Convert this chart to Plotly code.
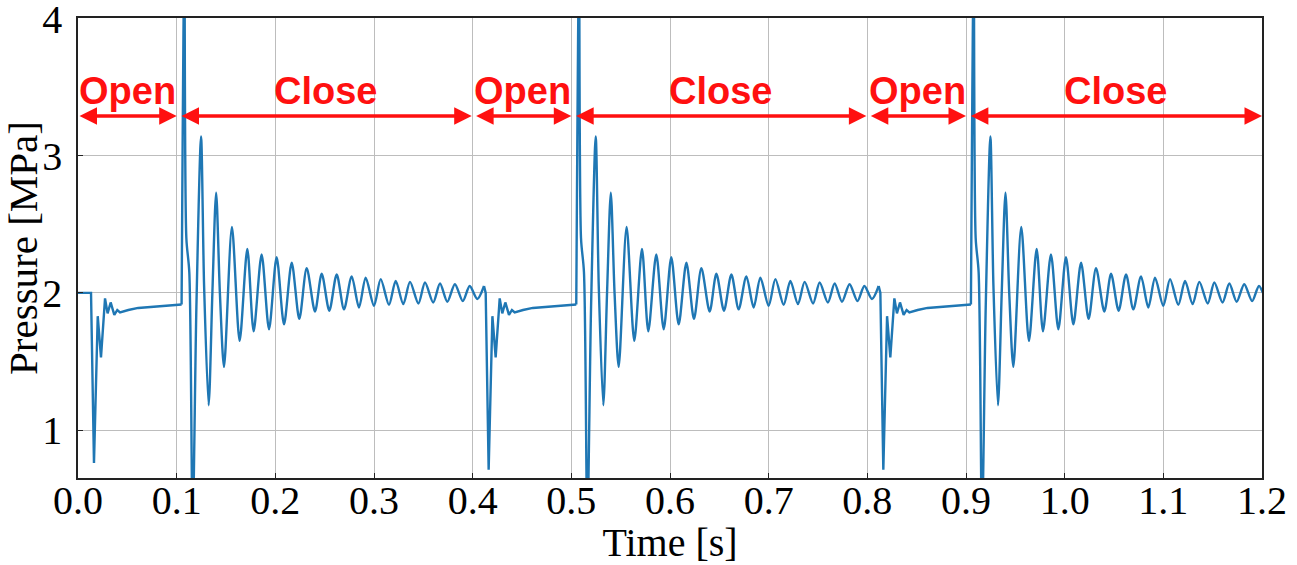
import plotly.graph_objects as go

# ---- data ----
cycle_start = [0.0, 0.4, 0.8]          # s, start of each valve cycle
initial_t = [0.0]
initial_p = [2.00]

# valve-open transient (time relative to cycle start, s ; pressure MPa)
open_t = [0.0132, 0.0162, 0.0200, 0.0233, 0.0274, 0.0300, 0.0331, 0.0368,
          0.0398, 0.0426, 0.0510, 0.0610, 0.0810, 0.1034, 0.1050]
open_p = [2.00, None, 1.83, 1.53, 1.96, 1.85, 1.93, 1.84,
          1.875, 1.857, 1.875, 1.89, 1.90, 1.91, 1.915]
open_dip = [0.76, 0.71, 0.71]          # deepest dip after opening, per cycle

# valve-close water hammer (time relative to cycle start, s ; pressure MPa)
close_t = [0.1050, 0.1078, 0.1098, 0.1128, 0.1162, 0.1200, 0.1247, 0.1278,
           0.1324, 0.1362, 0.1400, 0.1438, 0.1480, 0.1560, 0.1638, 0.1716,
           0.1780, 0.1861, 0.1936, 0.2013, 0.2088, 0.2166, 0.2243, 0.2318,
           0.2402, 0.2470, 0.2547, 0.2622, 0.2696, 0.2774, 0.2848, 0.2916,
           0.3000, 0.3068, 0.3152, 0.3220, 0.3297, 0.3365, 0.3450, 0.3517,
           0.3600, 0.3669, 0.3743, 0.3820, 0.3900, 0.3970, 0.4047, 0.4115]
close_p = [1.915, 4.40, 2.40, 2.15, 0.30, 1.90, 3.14, 2.05,
           1.18, 2.00, 2.73, 2.00, 1.46, 2.48, 1.65, 2.32,
           1.72, 2.28, 1.735, 2.26, 1.77, 2.22, 1.81, 2.18,
           1.864, 2.14, 1.87, 2.135, 1.88, 2.12, 1.893, 2.11,
           1.905, 2.10, 1.913, 2.087, 1.918, 2.08, 1.922, 2.075,
           1.93, 2.068, 1.935, 2.063, 1.94, 2.05, 1.955, 2.05]

# phase annotation arrows (s)
open_arrow_start = [0.000, 0.402, 0.802]
open_arrow_end = [0.100, 0.500, 0.900]
close_arrow_start = [0.1034, 0.5034, 0.9034]
close_arrow_end = [0.399, 0.799, 1.200]
arrow_level = 3.29
label_level = 3.47

x_ticks = [0.0, 0.1, 0.2, 0.3, 0.4, 0.5, 0.6, 0.7, 0.8, 0.9, 1.0, 1.1, 1.2]
y_ticks = [1, 2, 3, 4]

LINE = "#1f77b4"

# ---- build traces ----
ox, oy, cx, cy = [], [], [], []
for k, c in enumerate(cycle_start):
    if k == 0:
        ox += initial_t
        oy += initial_p
    else:
        ox.append(cycle_start[k - 1] + close_t[-1])
        oy.append(close_p[-1])
    for t, p in zip(open_t, open_p):
        ox.append(c + t)
        oy.append(open_dip[k] if p is None else p)
    ox.append(None)
    oy.append(None)
    for t, p in zip(close_t, close_p):
        cx.append(c + t)
        cy.append(p)
    cx.append(None)
    cy.append(None)

fig = go.Figure()
fig.add_trace(go.Scatter(x=ox, y=oy, mode="lines", line=dict(color=LINE, width=2.4),
                         connectgaps=False, showlegend=False))
fig.add_trace(go.Scatter(x=cx, y=cy, mode="lines",
                         line=dict(color=LINE, width=2.4, shape="spline", smoothing=0.8),
                         connectgaps=False, showlegend=False))

ann = []
def arrow(x0, x1):
    ann.append(dict(x=x1, y=arrow_level, ax=x0, ay=arrow_level, xref="x", yref="y",
                    axref="x", ayref="y", text="", showarrow=True, arrowside="end+start",
                    arrowhead=2, arrowsize=1.0, arrowwidth=3.5, arrowcolor="#ff1010",
                    standoff=0, startstandoff=0))

def label(xc, txt):
    ann.append(dict(x=xc, y=label_level, xref="x", yref="y", text=txt, showarrow=False,
                    font=dict(family="Liberation Sans", size=38, color="#ff1010"),
                    xanchor="center", yanchor="middle"))

for a, b in zip(open_arrow_start, open_arrow_end):
    arrow(a, b)
    label((a + b) / 2, "<b>Open</b>")
for a, b in zip(close_arrow_start, close_arrow_end):
    arrow(a, b)
    label((a + b) / 2, "<b>Close</b>")

axis_common = dict(showline=True, mirror=True, linecolor="#222222", linewidth=1.5,
                   showgrid=True, gridcolor="#bdbdbd", gridwidth=1, zeroline=False,
                   ticks="inside", ticklen=5, tickcolor="#222222", automargin=False,
                   ticklabeloverflow="allow",
                   tickfont=dict(family="Liberation Serif", size=40, color="black"))

fig.update_layout(
    width=1297, height=565,
    margin=dict(l=78, r=35, t=18, b=87),
    paper_bgcolor="white", plot_bgcolor="white",
    annotations=ann,
    xaxis=dict(range=[0, 1.2], tickvals=x_ticks,
               ticktext=[f"{v:.1f}" for v in x_ticks], ticklabelstandoff=-14,
               title=dict(text="Time [s]", font=dict(family="Liberation Serif", size=40, color="black"),
                          standoff=6),
               **axis_common),
    yaxis=dict(range=[0.65, 4.004], tickvals=y_ticks, ticklabelstandoff=6,
               title=dict(text="Pressure [MPa]", font=dict(family="Liberation Serif", size=41, color="black"),
                          standoff=14),
               **axis_common),
)

fig.write_html("out.html", config={"displayModeBar": False},
               post_script="document.body.style.margin='0';")
